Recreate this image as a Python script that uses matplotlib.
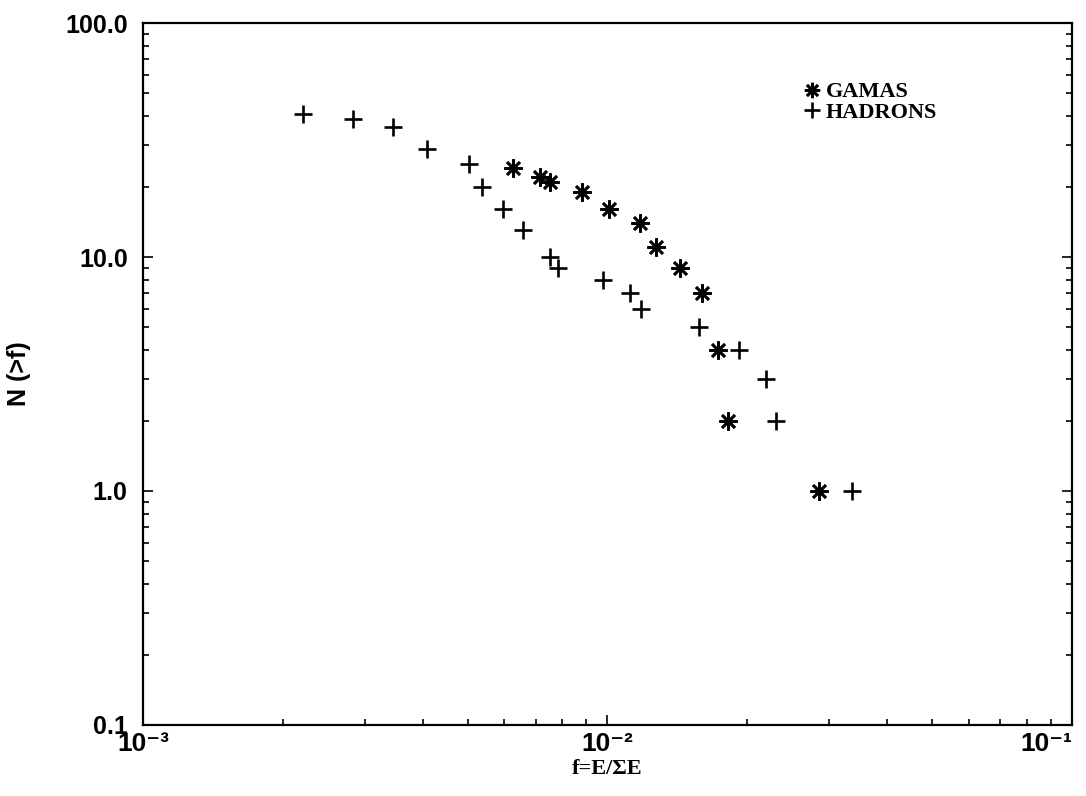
import matplotlib
matplotlib.use("Agg")
import matplotlib.pyplot as plt
from matplotlib.ticker import FixedLocator, FixedFormatter, LogLocator, NullFormatter

# ------------------------------------------------------------------ #
# Data
# ------------------------------------------------------------------ #
gamas_f = [6.27e-3, 7.16e-3, 7.52e-3, 8.81e-3, 1.01e-2, 1.175e-2,
           1.27e-2, 1.43e-2, 1.60e-2, 1.73e-2, 1.82e-2, 2.85e-2]
gamas_n = [24, 22, 21, 19, 16, 14, 11, 9, 7, 4, 2, 1]

hadrons_f = [2.21e-3, 2.83e-3, 3.45e-3, 4.09e-3, 5.03e-3, 5.37e-3,
             5.96e-3, 6.58e-3, 7.52e-3, 7.82e-3, 9.78e-3, 1.117e-2,
             1.18e-2, 1.574e-2, 1.92e-2, 2.20e-2, 2.31e-2, 3.36e-2]
hadrons_n = [41, 39, 36, 29, 25, 20, 16, 13, 10, 9, 8, 7, 6, 5, 4, 3, 2, 1]

x_ticks = [1e-3, 1e-2, 1e-1]
x_labels = ["10⁻³", "10⁻²", "10⁻¹"]
y_ticks = [0.1, 1.0, 10.0, 100.0]
y_labels = ["0.1", "1.0", "10.0", "100.0"]

plt.rcParams["font.family"] = ["Liberation Sans", "DejaVu Sans"]
plt.rcParams["font.weight"] = "bold"

fig = plt.figure(figsize=(10.86, 7.96), dpi=100)
ax = fig.add_axes([0.1317, 0.0892, 0.8553, 0.8819])

ax.plot(gamas_f, gamas_n, linestyle="none", marker=(8, 2, 0), markersize=13,
        markeredgewidth=1.9, color="black", label="GAMAS")
ax.plot(hadrons_f, hadrons_n, linestyle="none", marker="+", markersize=13,
        markeredgewidth=1.9, color="black", label="HADRONS")

ax.set_xscale("log")
ax.set_yscale("log")
ax.set_xlim(1e-3, 1e-1)
ax.set_ylim(0.1, 100)

ax.xaxis.set_major_locator(FixedLocator(x_ticks))
ax.xaxis.set_major_formatter(FixedFormatter(x_labels))
ax.yaxis.set_major_locator(FixedLocator(y_ticks))
ax.yaxis.set_major_formatter(FixedFormatter(y_labels))
ax.xaxis.set_minor_locator(LogLocator(base=10, subs=range(2, 10)))
ax.yaxis.set_minor_locator(LogLocator(base=10, subs=range(2, 10)))
ax.xaxis.set_minor_formatter(NullFormatter())
ax.yaxis.set_minor_formatter(NullFormatter())

ax.tick_params(which="both", direction="in", top=False, right=True, width=1.2)
ax.tick_params(which="major", length=7, labelsize=18)
ax.tick_params(axis="y", which="major", pad=11)
ax.tick_params(axis="x", which="major", pad=5, labelsize=19)
ax.tick_params(which="minor", length=4)
for s in ax.spines.values():
    s.set_linewidth(1.6)
# the 10^-1 label sits just inside the right edge, as in the reference
ax.get_xticklabels()[-1].set_horizontalalignment("right")

ax.set_xlabel("f=E/ΣE", family=["Liberation Serif", "DejaVu Serif"],
              fontsize=16, fontweight="bold", labelpad=2)
ax.set_ylabel("N (>f)", fontsize=18, fontweight="bold")
ax.yaxis.set_label_coords(-0.121, 0.5)

ax.legend(loc="upper left", bbox_to_anchor=(0.7, 0.932), frameon=False,
          handlelength=0.7, handletextpad=0.25, labelspacing=0.0,
          borderpad=0, markerscale=0.85,
          prop={"family": ["Liberation Serif", "DejaVu Serif"],
                "weight": "bold", "size": 16})

fig.savefig("out.png", dpi=100)
plt.close(fig)
